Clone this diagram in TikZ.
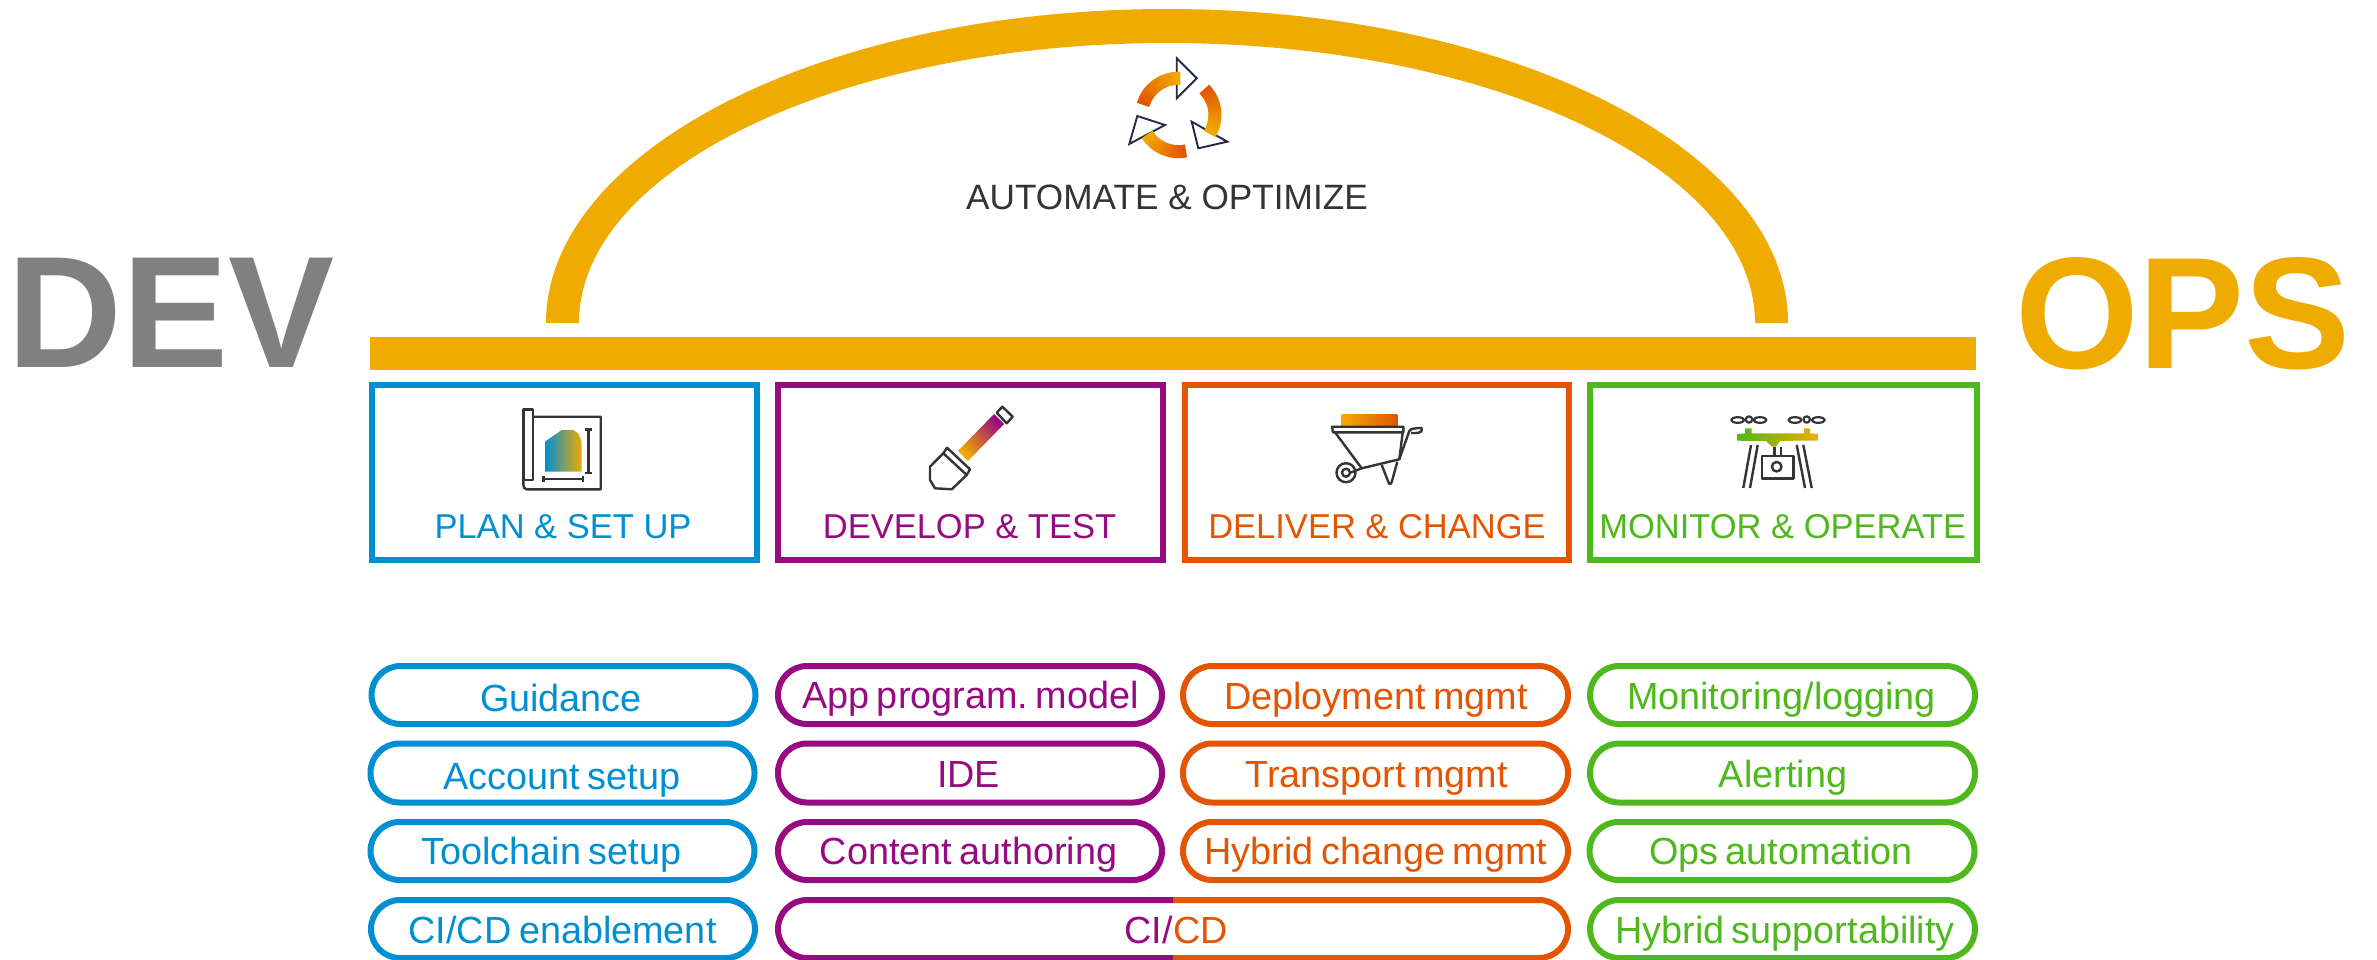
\documentclass[tikz,border=0pt]{standalone}
\usepackage{fontspec}
\setmainfont{Liberation Sans}
\definecolor{sapblue}{HTML}{008FD3}
\definecolor{sappurple}{HTML}{970A82}
\definecolor{sapred}{HTML}{E35500}
\definecolor{sapgreen}{HTML}{4FB81C}
\definecolor{sapgold}{HTML}{F0AB00}
\definecolor{devgrey}{HTML}{808080}
\definecolor{iconink}{HTML}{333338}
\definecolor{arrowink}{HTML}{232A45}
\newcommand{\pillfont}{\fontsize{37.8}{40}\selectfont\spaceskip .2em\relax\xspaceskip .2em\relax}
\tikzset{
  pill/.style={draw=#1, line width=6pt, rounded corners=29pt, inner sep=0pt, minimum height=58pt, minimum width=384pt},
  stagebox/.style={draw=#1, line width=6pt, inner sep=0pt, minimum height=175pt, minimum width=385pt},
  pilltext/.style={text=#1, anchor=base, inner sep=0pt, font=\pillfont},
  stagetext/.style={text=#1, anchor=base, inner sep=0pt, font=\fontsize{34.5}{38}\selectfont},
  autotext/.style={text=#1, anchor=base, inner sep=0pt, font=\fontsize{35.2}{38}\selectfont},
  bigtext/.style={text=#1, anchor=base, inner sep=0pt, font=\fontsize{159}{165}\selectfont\bfseries},
  icon/.style={draw=iconink, line width=2.4pt, line join=round},
  arrowhead/.style={draw=arrowink, line width=1.9pt, line join=miter},
  halfpill/.style={draw=#1, line width=6pt, rounded corners=29pt}
}
\newcommand{\ringarc}[4]{% start angle, end angle, mix at start, mix at end
  \foreach \k in {0,...,15}{
    \pgfmathsetmacro{\aa}{#1+(#2-#1)*\k/16}
    \pgfmathsetmacro{\ab}{#1+(#2-#1)*(\k+1.25)/16}
    \pgfmathsetmacro{\pp}{#3+(#4-#3)*\k/15}
    \draw[line width=13pt, color={sapred!\pp!sapgold}]
      ({1178.3+36.7*cos(\aa)},{115-36.7*sin(\aa)}) -- ({1178.3+36.7*cos(\ab)},{115-36.7*sin(\ab)});
  }
}
\begin{document}
\begin{tikzpicture}[x=1pt,y=-1pt]
\clip (0,0) rectangle (2377,959);
\fill[white] (0,0) rectangle (2377,959);

% arch and bar
\fill[sapgold] (546,323) .. controls (546,150.1) and (824,9) .. (1167,9)
   .. controls (1510,9) and (1788,150.1) .. (1788,323) -- (1755,323)
   .. controls (1755,168.4) and (1491.8,43) .. (1167,43)
   .. controls (842.2,43) and (579,168.4) .. (579,323) -- cycle;
\fill[sapgold] (370,337) rectangle (1975.5,369.5);

% big words
\node[bigtext=devgrey] (dev) at (171,367) {DEV};
\node[bigtext=sapgold] (ops) at (2183,368) {OPS};

% automate icon
\draw[arrowhead] (1176.7,58.3) -- (1196.7,78.3) -- (1176.7,98.3) -- cycle;
\draw[arrowhead] (1191.7,121.7) -- (1198.3,148.3) -- (1227.3,141.7) -- cycle;
\draw[arrowhead] (1165,125) -- (1137.3,116) -- (1129.3,144) -- cycle;
\ringarc{164}{88}{100}{0}
\ringarc{45}{-30}{100}{0}
\ringarc{212}{281}{0}{100}
\node[autotext=iconink] (automate) at (1167,209.5) {AUTOMATE \& OPTIMIZE};

% stage boxes
\node[stagebox=sapblue]   (plan)    at (564.5,472.5) [minimum width=385.5pt] {};
\node[stagebox=sappurple] (develop) at (970.5,472.5) [minimum width=385.5pt] {};
\node[stagebox=sapred]    (deliver) at (1377,472.5) [minimum width=384.5pt] {};
\node[stagebox=sapgreen]  (monitor) at (1783.5,472.5) [minimum width=387pt] {};
\node[stagetext=sapblue]   (plant) at (563,538) {PLAN \& SET UP};
\node[stagetext=sappurple] (devt)  at (969.5,538) {DEVELOP \& TEST};
\node[stagetext=sapred]    (delt)  at (1377,538) {DELIVER \& CHANGE};
\node[stagetext=sapgreen]  (mont)  at (1782.7,538) {MONITOR \& OPERATE};

% plan icon
\shade[left color=sapblue, middle color=sapgold!50!sapblue!90!black, right color=sapgold]
  (545,441.7) -- (561.7,430) -- (573.3,430) -- (578.3,433.3) -- (581.7,441.7) -- (581.7,471.7) -- (545,471.7) -- cycle;
\draw[icon] (523.3,480) -- (523.3,409.3) -- (532.7,409.3) -- (532.7,480) -- (523.3,480);
\draw[icon] (532.7,416.7) -- (600.7,416.7) -- (600.7,489.3) -- (526.5,489.3) .. controls (524,489.3) and (523.3,487) .. (523.3,484) -- (523.3,480);
\draw[icon] (588.3,429.3) -- (588.3,472.7) (585,429.3) -- (591.6,429.3) (585,472.7) -- (591.6,472.7);
\draw[icon] (543.3,479) -- (582.7,479) (543.3,476) -- (543.3,482) (582.7,476) -- (582.7,482);

% shovel icon
\shade[shading=axis, bottom color=sapgold, middle color=sapred!70!sappurple!70!sapgold, top color=sappurple, shading angle=-45]
  (958,451) -- (994,414) -- (1004,424) -- (968,461) -- cycle;
\draw[icon] (1002.3,406.7) -- (1012.7,416.7) -- (1006.7,423.3) -- (996.7,412.7) -- cycle;
\draw[icon] (947,447.7) -- (970,469.3) -- (966.7,475) -- (943.3,453.3) -- cycle;
\draw[icon] (943.3,453.3) -- (930,466.7) -- (930,480) -- (935,488.3) -- (951.7,489.3) -- (958,483.3) -- (966.7,475);

% wheelbarrow icon
\shade[left color=sapgold, right color=sapred] (1341.7,414) rectangle (1397.3,426);
\draw[icon] (1332,426.7) -- (1403.3,426.7) -- (1403.3,432.3) -- (1333,432.3) -- cycle;
\draw[icon] (1335,432.3) -- (1361.7,468.3);
\draw[icon] (1402.7,432.3) -- (1399.3,459.3) -- (1361.7,468.3) -- (1351,472.5);
\draw[icon] (1399.3,459.3) -- (1409.3,431) .. controls (1411,428) and (1415,429) .. (1418,428) -- (1421.5,428) .. controls (1423,431) and (1420,433) .. (1416,433) -- (1411,433);
\draw[icon] (1381.7,465) -- (1388,481) .. controls (1389,485) and (1391,485) .. (1392,481) -- (1397.3,461.7);
\draw[icon] (1346,472.7) circle[radius=9.5pt];
\draw[icon] (1346,472.7) circle[radius=4pt];

% drone icon
\shade[left color=sapgreen, middle color=sapgreen!50!sapgold, right color=sapgold]
  (1745,433.3) -- (1745,428.3) -- (1751.7,428.3) -- (1751.7,433.3) -- (1804,433.3) -- (1804,428.3) -- (1810,428.3) -- (1810,433.3)
  -- (1818.3,434) -- (1818.3,440.7) -- (1795,440.7) -- (1780,441) -- (1776,446.7) -- (1772,446.7) -- (1766,441) -- (1737,440.7) -- (1737,434) -- cycle;
\draw[icon, line width=2.2pt] (1737.7,420) ellipse[x radius=6.5pt, y radius=2.8pt];
\draw[icon, line width=2.2pt] (1749,419.5) circle[radius=3.2pt];
\draw[icon, line width=2.2pt] (1760,420) ellipse[x radius=6.5pt, y radius=2.8pt];
\draw[icon, line width=2.2pt] (1795,420) ellipse[x radius=6.5pt, y radius=2.8pt];
\draw[icon, line width=2.2pt] (1806.7,419.5) circle[radius=3.2pt];
\draw[icon, line width=2.2pt] (1818.3,420) ellipse[x radius=6.5pt, y radius=2.8pt];
\draw[icon] (1751,445) -- (1743.3,488) (1757.7,445) -- (1750,488);
\draw[icon] (1796.7,445) -- (1805,488) (1803.3,445) -- (1811.7,488);
\draw[icon] (1774.3,447) -- (1774.3,456) (1781,447) -- (1781,456);
\draw[icon] (1761.7,456) rectangle (1793.3,478.3);
\draw[icon] (1776.7,466.7) circle[radius=4.8pt];

% pills row 1
\node[pill=sapblue]   (p11) at (563.5,695) {};
\node[pill=sappurple] (p12) at (970,695) {};
\node[pill=sapred]    (p13) at (1375.5,695) [minimum width=385pt] {};
\node[pill=sapgreen]  (p14) at (1782.5,695) [minimum width=385pt] {};
% row 2
\node[pill=sapblue]   (p21) at (562.5,773) [minimum height=59pt] {};
\node[pill=sappurple] (p22) at (970,773) [minimum height=59pt] {};
\node[pill=sapred]    (p23) at (1375.5,773) [minimum height=59pt, minimum width=385pt] {};
\node[pill=sapgreen]  (p24) at (1782.5,773) [minimum height=59pt, minimum width=385pt] {};
% row 3
\node[pill=sapblue]   (p31) at (562.5,851) {};
\node[pill=sappurple] (p32) at (970,851) {};
\node[pill=sapred]    (p33) at (1375.5,851) [minimum width=385pt] {};
\node[pill=sapgreen]  (p34) at (1782,851) [minimum width=385pt] {};
% row 4
\node[pill=sapblue]   (p41) at (563,929) {};
\draw[halfpill=sappurple] (1173,900) -- (778,900) -- (778,958) -- (1173,958);
\draw[halfpill=sapred] (1173,900) -- (1568,900) -- (1568,958) -- (1173,958);
\node[pill=sapgreen]  (p44) at (1782.5,929) [minimum width=385pt] {};

% pill labels
\node[pilltext=sapblue]   (t11) at (561,711.5) {Guidance};
\node[pilltext=sappurple] (t12) at (970.5,708.5) {App program. model};
\node[pilltext=sapred]    (t13) at (1376,709) {Deployment mgmt};
\node[pilltext=sapgreen]  (t14) at (1781.5,709.5) {Monitoring/logging};
\node[pilltext=sapblue]   (t21) at (562,789) {Account setup};
\node[pilltext=sappurple] (t22) at (968.6,787) {IDE};
\node[pilltext=sapred]    (t23) at (1376.7,787) {Transport mgmt};
\node[pilltext=sapgreen]  (t24) at (1783,787) {Alerting};
\node[pilltext=sapblue]   (t31) at (551.5,864) {Toolchain setup};
\node[pilltext=sappurple] (t32) at (968.6,864) {Content authoring};
\node[pilltext=sapred]    (t33) at (1376,864) {Hybrid change mgmt};
\node[pilltext=sapgreen]  (t34) at (1781,864.5) {Ops automation};
\node[pilltext=sapblue]   (t41) at (562.6,943) {CI/CD enablement};
\node[pilltext=sappurple, anchor=base east] (t42a) at (1173,943) {CI/};
\node[pilltext=sapred, anchor=base west] (t42b) at (1173,943) {CD};
\node[pilltext=sapgreen]  (t44) at (1785,943) {Hybrid supportability};
\end{tikzpicture}
\end{document}
